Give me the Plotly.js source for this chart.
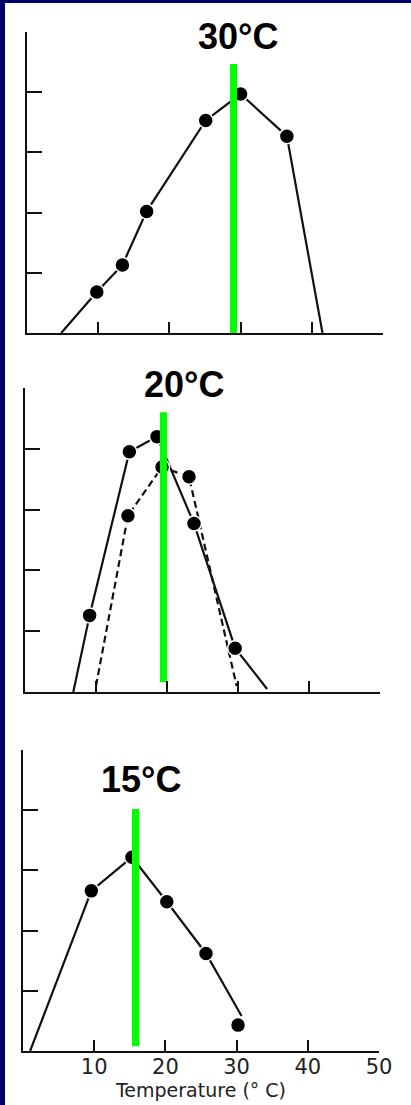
<!DOCTYPE html>
<html><head><meta charset="utf-8">
<script src="https://cdn.plot.ly/plotly-3.0.1.min.js"></script>
<style>html,body{margin:0;padding:0;background:#fff;overflow:hidden}#chart{width:411px;height:1105px}</style>
</head><body><div id="chart"></div>
<script>
// ---- data ----
const panelLabels = ["30°C", "20°C", "15°C"];
const xTickVals = [10, 20, 30, 40, 50];
const xTickText = ["10", "20", "30", "40", "50"];
const yTickVals = [1, 2, 3, 4, 5];
const xAxisTitle = "Temperature (° C)";

// Panel 1 (30°C)
const p1LineX = [4.8, 9.8, 13.4, 16.8, 25.1, 30.0, 36.5, 41.5];
const p1LineY = [0, 0.68, 1.13, 2.02, 3.53, 3.97, 3.27, 0];
const p1PtX = [9.8, 13.4, 16.8, 25.1, 30.0, 36.5];
const p1PtY = [0.68, 1.13, 2.02, 3.53, 3.97, 3.27];
const p1OptX = [29.0, 29.0];
const p1OptY = [0, 4.47];

// Panel 2 (20°C) solid series
const p2aLineX = [6.8, 9.1, 14.7, 18.6, 23.8, 29.6, 34.1];
const p2aLineY = [0, 1.26, 3.95, 4.2, 2.77, 0.72, 0.05];
const p2aPtX = [9.1, 14.7, 18.6, 23.8, 29.6];
const p2aPtY = [1.26, 3.95, 4.2, 2.77, 0.72];
// Panel 2 dashed series
const p2bLineX = [10.0, 14.5, 19.3, 23.1, 29.8];
const p2bLineY = [0.1, 2.9, 3.7, 3.54, 0.1];
const p2bPtX = [14.5, 19.3, 23.1];
const p2bPtY = [2.9, 3.7, 3.54];
const p2OptX = [19.5, 19.5];
const p2OptY = [0.16, 4.6];

// Panel 3 (15°C)
const p3LineX = [1.0, 9.6, 15.3, 20.2, 25.7, 30.7];
const p3LineY = [0, 2.66, 3.22, 2.48, 1.62, 0.58];
const p3PtX = [9.6, 15.3, 20.2, 25.7, 30.2];
const p3PtY = [2.66, 3.22, 2.48, 1.62, 0.43];
const p3OptX = [15.8, 15.8];
const p3OptY = [0.08, 4.02];

// ---- layout helpers ----
const W = 411, H = 1105;
const boxes = [
  {x0: 27, x1: 383, y0: 32, y1: 333},
  {x0: 25, x1: 380, y0: 388, y1: 692},
  {x0: 23, x1: 379, y0: 750, y1: 1051}
];
const titlePos = [[238, 37], [184, 384.5], [141, 779.5]];

const lineStyle = {color: '#111', width: 2.2};
const markerStyle = {color: '#000', size: 15, line: {color: '#fff', width: 1.5}};
const green = {color: '#00ff00', width: 7};

function lineTrace(x, y, ax, dash) {
  return {x, y, xaxis: 'x' + ax, yaxis: 'y' + ax, mode: 'lines', type: 'scatter',
    line: Object.assign({}, lineStyle, dash ? {dash: '7px,4px'} : {}), cliponaxis: false, hoverinfo: 'skip'};
}
function ptTrace(x, y, ax) {
  return {x, y, xaxis: 'x' + ax, yaxis: 'y' + ax, mode: 'markers', type: 'scatter',
    marker: markerStyle, cliponaxis: false, hoverinfo: 'skip'};
}
function optTrace(x, y, ax) {
  return {x, y, xaxis: 'x' + ax, yaxis: 'y' + ax, mode: 'lines', type: 'scatter',
    line: green, cliponaxis: false, hoverinfo: 'skip'};
}

const data = [
  lineTrace(p1LineX, p1LineY, ''), ptTrace(p1PtX, p1PtY, ''), optTrace(p1OptX, p1OptY, ''),
  lineTrace(p2aLineX, p2aLineY, '2'), lineTrace(p2bLineX, p2bLineY, '2', true),
  ptTrace(p2aPtX, p2aPtY, '2'), ptTrace(p2bPtX, p2bPtY, '2'), optTrace(p2OptX, p2OptY, '2'),
  lineTrace(p3LineX, p3LineY, '3'), ptTrace(p3PtX, p3PtY, '3'), optTrace(p3OptX, p3OptY, '3')
];

const layout = {
  width: W, height: H, margin: {l: 0, r: 0, t: 0, b: 0},
  paper_bgcolor: '#fff', plot_bgcolor: 'rgba(0,0,0,0)', showlegend: false,
  annotations: [], shapes: [
    {type: 'rect', xref: 'paper', yref: 'paper', x0: 0, x1: 5 / W, y0: 0, y1: 1, fillcolor: '#000066', line: {width: 0}},
    {type: 'rect', xref: 'paper', yref: 'paper', x0: 0, x1: 1, y0: 1 - 3 / H, y1: 1, fillcolor: '#000066', line: {width: 0}}
  ]
};

boxes.forEach((b, i) => {
  const s = i === 0 ? '' : String(i + 1);
  layout['xaxis' + s] = {
    domain: [b.x0 / W, b.x1 / W], anchor: 'y' + s, range: [0, 50], fixedrange: true,
    showline: true, linecolor: '#111', linewidth: 2.2, showgrid: false, zeroline: false,
    ticks: 'inside', ticklen: 11, tickwidth: 2, tickcolor: '#111',
    tickvals: xTickVals, ticktext: xTickText, showticklabels: i === 2,
    tickfont: {family: 'DejaVu Sans', size: 21, color: '#222'}
  };
  layout['yaxis' + s] = {
    domain: [1 - b.y1 / H, 1 - b.y0 / H], anchor: 'x' + s, range: [0, 5], fixedrange: true,
    showline: true, linecolor: '#111', linewidth: 2.2, showgrid: false, zeroline: false,
    ticks: 'inside', ticklen: 15, tickwidth: 2, tickcolor: '#111',
    tickvals: yTickVals, showticklabels: false
  };
  layout.annotations.push({
    xref: 'paper', yref: 'paper', x: titlePos[i][0] / W, y: 1 - titlePos[i][1] / H,
    xanchor: 'center', yanchor: 'middle', showarrow: false, text: panelLabels[i],
    font: {family: 'Liberation Sans, Arial, sans-serif', size: 36, weight: 'bold', color: '#000'}
  });
});
layout.xaxis3.ticklabelstandoff = -4;
layout.xaxis3.title = {text: xAxisTitle, standoff: 4, font: {family: 'DejaVu Sans', size: 19, color: '#222'}};

Plotly.newPlot('chart', data, layout, {displayModeBar: false, staticPlot: true});
</script></body></html>
